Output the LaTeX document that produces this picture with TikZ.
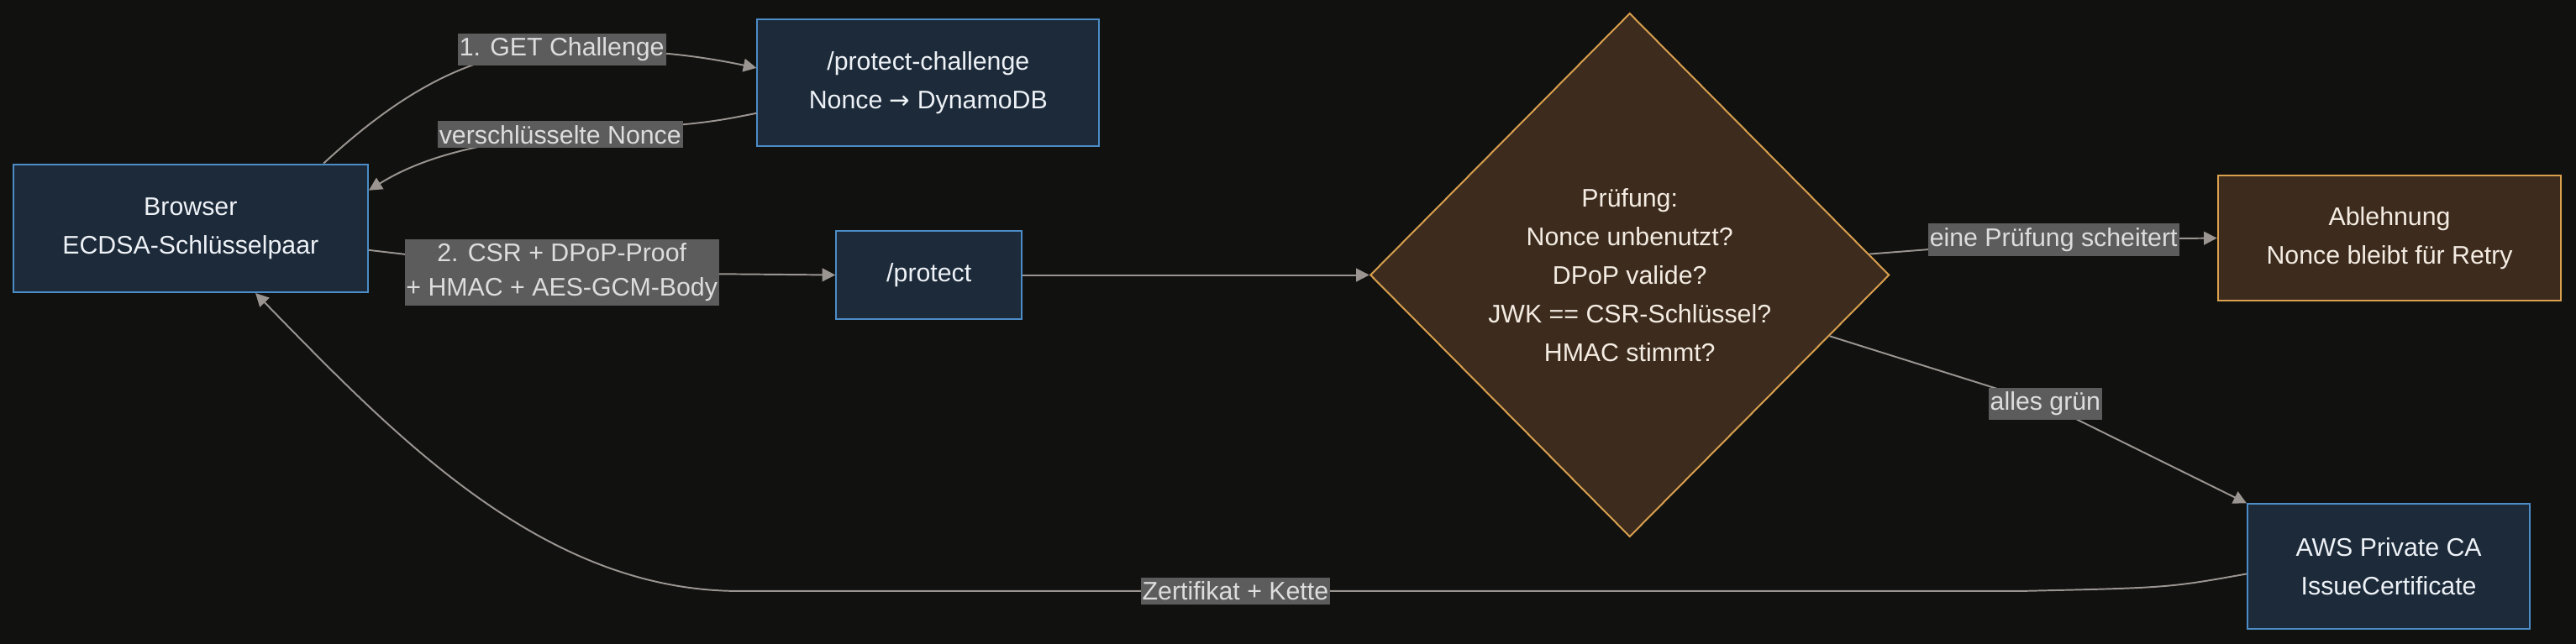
\documentclass[tikz,border=0pt]{standalone}
\usepackage{fontspec}
\setmainfont{Liberation Sans}
\usetikzlibrary{shapes.geometric,arrows.meta}
\definecolor{bg}{HTML}{111110}
\definecolor{bluefill}{HTML}{1C2A3A}
\definecolor{blueline}{HTML}{4C8DC8}
\definecolor{bluetext}{HTML}{EEF2F6}
\definecolor{brownfill}{HTML}{3D2C1E}
\definecolor{brownline}{HTML}{D9A04E}
\definecolor{browntext}{HTML}{F4ECE2}
\definecolor{edgec}{HTML}{9A9590}
\definecolor{lblbg}{HTML}{5C5C5C}
\definecolor{lbltext}{HTML}{DDDDDD}
\begin{document}
\begin{tikzpicture}[x=1pt,y=-1pt,
  font=\fontsize{15.5}{23.5}\selectfont,
  bluebox/.style={draw=blueline, fill=bluefill, text=bluetext, line width=1pt, align=center, inner sep=0pt},
  brownbox/.style={draw=brownline, fill=brownfill, text=browntext, line width=1pt, align=center, inner sep=0pt},
  lbl/.style={fill=lblbg, text=lbltext, inner xsep=1pt, inner ysep=2.5pt, align=center, font=\fontsize{15.5}{21}\selectfont},
  edge/.style={draw=edgec, line width=1pt, -{Triangle[length=8pt,width=8pt]}}]
\fill[bg] (0,0) rectangle (1568,392);
\useasboundingbox (0,0) rectangle (1568,392);

\node[bluebox, minimum width=216pt, minimum height=78pt] (browser) at (116,139) {Browser\\ECDSA-Schlüsselpaar};
\node[bluebox, minimum width=208pt, minimum height=77pt] (chal) at (565,50.5) {/protect-challenge\\Nonce {\fontspec{DejaVu Sans}\fontsize{15}{23.5}\selectfont →} DynamoDB};
\node[bluebox, minimum width=113pt, minimum height=54pt] (prot) at (565.5,167.5) {/protect};
\node[brownbox, diamond, shape aspect=1, minimum width=316pt, minimum height=319pt] (check) at (992,167.5) {Prüfung:\\Nonce unbenutzt?\\DPoP valide?\\JWK == CSR-Schlüssel?\\HMAC stimmt?};
\node[brownbox, minimum width=209pt, minimum height=76pt] (rej) at (1454.5,145) {Ablehnung\\Nonce bleibt für Retry};
\node[bluebox, minimum width=172pt, minimum height=76pt] (aws) at (1454,345) {AWS Private CA\\IssueCertificate};

\draw[edge] (browser.26) .. controls (245,55) and (290,30) .. (342,30) node[lbl] {1. GET Challenge}
  .. controls (400,30) and (430,35) .. (chal.175);
\draw[edge] (chal.190) .. controls (430,75) .. (341,82) node[lbl] {verschlüsselte Nonce}
  .. controls (280,88) and (250,100) .. (browser.12);
\draw[edge] (browser.-7) -- (342,166) node[lbl] {2. CSR + DPoP-Proof\\+ HMAC + AES-GCM-Body} -- (prot.west);
\draw[edge] (prot.east) -- (check.west);
\draw[edge] (check.5) -- (1250,146) node[lbl] {eine Prüfung scheitert} -- (rej.west);
\draw[edge] (check.-17) -- (1245,246) node[lbl] {alles grün} -- (aws.north west);
\draw[edge] (aws.183) .. controls (1320,358) .. (1230,360) -- (752,360) node[lbl] {Zertifikat + Kette}
  -- (450,360) .. controls (330,360) and (240,265) .. (browser.-45);
\end{tikzpicture}
\end{document}
